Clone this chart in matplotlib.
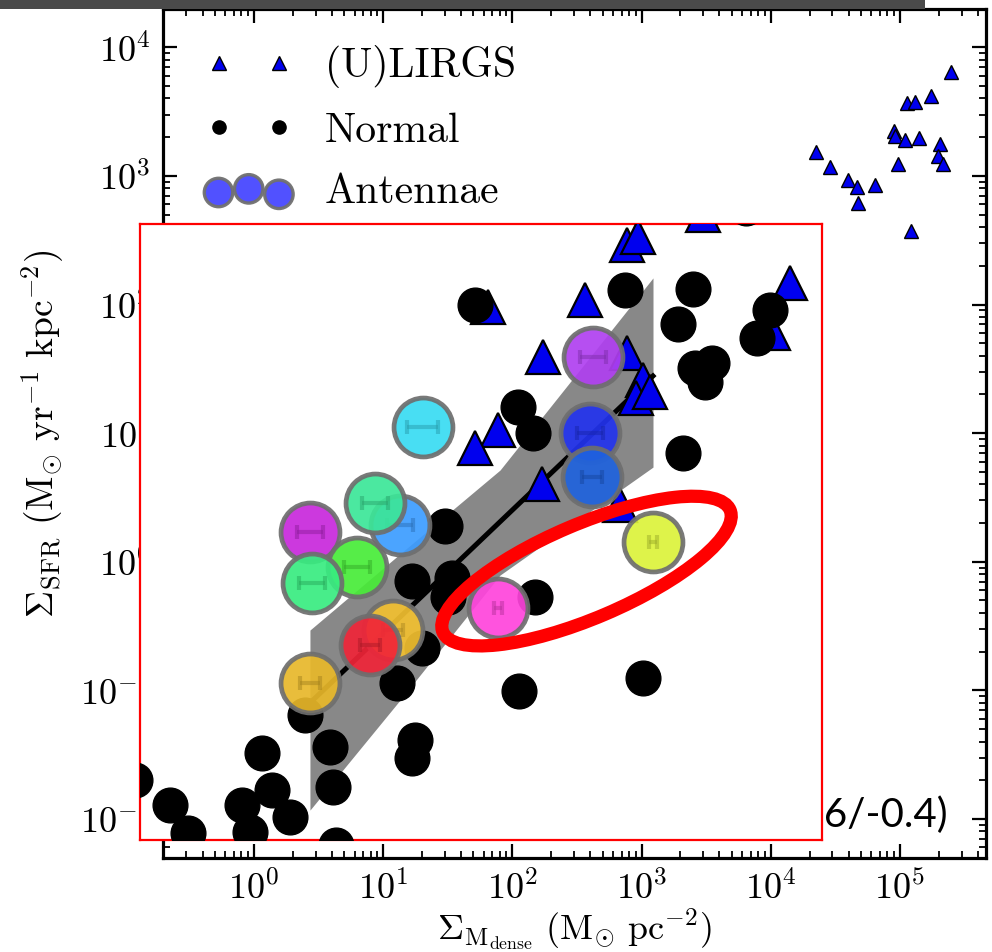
import matplotlib
matplotlib.use("Agg")
import matplotlib.pyplot as plt
import matplotlib.colors as mcolors
import numpy as np
from matplotlib.patches import Ellipse, Rectangle
from matplotlib.transforms import IdentityTransform

plt.rcParams.update({
    "font.family": "serif",
    "font.serif": ["cmr10"],
    "mathtext.fontset": "cm",
    "axes.unicode_minus": False,
    "axes.formatter.use_mathtext": True,
})

# (U)LIRGs visible in the full-range panel
lirg_x = [248000, 113000, 131000, 174000, 90000, 91500, 203000, 109000, 140000,
          197000, 96600, 215000, 22400, 28700, 39600, 46500, 64100, 47300, 122000]
lirg_y = [6430, 3690, 3760, 4180, 2230, 2040, 1770, 1900, 1970,
          1430, 1230, 1230, 1530, 1170, 927, 819, 847, 615, 372]

# zoomed panel: normal galaxies
normal_x = [51.4, 745, 2500, 6430, 9860, 7820, 1910, 2590, 3510, 3100, 110, 144,
            2090, 30.1, 16.7, 34.1, 31.7, 150, 19.9, 12.8, 2.48, 112, 1025, 1.15,
            3.87, 17.6, 16.7, 4.09, 1.38, 0.807, 1.90, 0.224, 0.308, 0.931, 4.31, 0.120]
normal_y = [99.1, 130, 132, 562, 90.6, 54.9, 70.6, 32.1, 35.1, 25.0, 16.0, 10.0,
            7.01, 1.89, 0.707, 0.746, 0.531, 0.531, 0.213, 0.114, 0.0643, 0.0986, 0.124, 0.0325,
            0.0362, 0.0410, 0.0297, 0.0177, 0.0167, 0.0128, 0.0103, 0.0128, 0.00776, 0.00791,
            0.00627, 0.0201]

# zoomed panel: (U)LIRGs
ulirg_x = [64.7, 771, 937, 2990, 365, 14100, 10400, 173, 771, 1025, 905, 1160,
           77.4, 51.4, 169, 681]
ulirg_y = [95.7, 290, 334, 495, 108, 147, 60.0, 39.1, 42.0, 25.9, 18.7, 20.9,
           10.6, 7.66, 4.02, 2.76]

# Antennae regions
ant_x = [20.3, 2.71, 6.27, 2.81, 13.5, 8.64, 11.9, 7.90, 2.71, 421, 399, 413, 77.4, 1225]
ant_y = [11.2, 1.70, 0.910, 0.683, 1.93, 2.86, 0.294, 0.225, 0.114, 39.1, 10.0, 4.56, 0.436, 1.42]
ant_colors = ["#38dcf2", "#c828dc", "#48ec38", "#38ec80", "#3c9cff", "#3ce698", "#f2c030",
              "#f02438", "#e8b82a", "#b040f0", "#2233ee", "#1f62de", "#ff44dc", "#dcf23a"]
ant_xerr_dex = [0.12, 0.1, 0.1, 0.1, 0.1, 0.1, 0.08, 0.08, 0.08, 0.1, 0.1, 0.08, 0.03, 0.03]

# best fit and its uncertainty wedge
fit_x = [2.71, 1225]
fit_y = [0.0797, 27.8]
band_x = [2.71, 13.5, 80.2, 1225]
band_hi = [0.294, 1.15, 5.16, 161]
band_lo = [0.0117, 0.0839, 0.787, 5.44]

fig = plt.figure(figsize=(9.92, 9.52), dpi=100)
W, H = 992.0, 952.0

# main panel
ax = fig.add_axes([163 / W, 1 - 858 / H, 823 / W, 849 / H])
ax.set_xscale("log")
ax.set_yscale("log")
ax.set_xlim(0.1976, 463400)
ax.set_ylim(0.00497, 19860)

ax.plot(lirg_x, lirg_y, ls="none", marker="^", ms=10, mfc="#0000ee", mec="black",
        mew=1.0, label="(U)LIRGS")
ax.plot([], [], ls="none", marker="o", ms=9.5, mfc="black", mec="black", label="Normal")
ax.scatter([], [], s=420, color="#4848ff", edgecolors="#707070", linewidths=2.4,
           alpha=0.95, label="Antennae")

ax.tick_params(which="both", direction="in", top=True, right=True, labelsize=26)
ax.tick_params(which="major", length=10, width=1.6, pad=9)
ax.tick_params(which="minor", length=5, width=1.3)
for sp in ax.spines.values():
    sp.set_linewidth(2.3)

ax.set_xlabel(r"$\Sigma_{\rm M_{dense}}\ ({\rm M_{\odot}\ pc^{-2}})$", fontsize=26, labelpad=0)
ax.set_ylabel(r"$\Sigma_{\rm SFR}\ ({\rm M_{\odot}\ yr^{-1}\ kpc^{-2}})$", fontsize=27, labelpad=10)

ax.legend(loc="upper left", bbox_to_anchor=(0.032, 0.977), borderaxespad=0,
          frameon=False, fontsize=30, numpoints=2, scatterpoints=3,
          scatteryoffsets=[0.375, 0.5, 0.3125], handlelength=2.05,
          handletextpad=0.8, labelspacing=0.58)

ax.text(0.9538, 0.0365, r"slope = 1.1 (+0.6/-0.4)", transform=ax.transAxes,
        ha="right", va="baseline", fontsize=29, family="Lato")

# zoomed panel over the lower-left of the main one
ax_in = fig.add_axes([140 / W, 1 - 840 / H, 682 / W, 616 / H])
ax_in.set_xscale("log")
ax_in.set_yscale("log")
ax_in.set_xlim(0.1311, 24900)
ax_in.set_ylim(0.00685, 422.7)
ax_in.set_xticks([])
ax_in.set_yticks([])
ax_in.minorticks_off()
for sp in ax_in.spines.values():
    sp.set_color("red")
    sp.set_linewidth(1.6)

ax_in.fill_between(band_x, band_lo, band_hi, color="#888888", lw=0, zorder=1)
ax_in.plot(fit_x, fit_y, color="black", lw=3.6, zorder=2)
ax_in.plot(ulirg_x, ulirg_y, ls="none", marker="^", ms=24, mfc="#0000ee", mec="black",
           mew=1.6, zorder=3)
ax_in.plot(normal_x, normal_y, ls="none", marker="o", ms=25, mfc="black", mec="black",
           zorder=4)

for i, (x, y, c, e) in enumerate(zip(ant_x, ant_y, ant_colors, ant_xerr_dex)):
    z = 10 + 2 * i
    ax_in.scatter([x], [y], s=1800, color=c, edgecolors="#6e6e6e", linewidths=3.4,
                  alpha=0.92, zorder=z)
    dark = tuple(0.72 * v for v in mcolors.to_rgb(c))
    ax_in.errorbar([x], [y], xerr=[[x - x / 10 ** e], [x * 10 ** e - x]],
                   fmt="none", ecolor=dark, elinewidth=3, capsize=5, capthick=3,
                   alpha=0.5, zorder=z + 1)

# highlight around the two outlying Antennae regions
fig.canvas.draw()
p1 = ax_in.transData.transform((ant_x[12], ant_y[12]))
p2 = ax_in.transData.transform((ant_x[13], ant_y[13]))
center = (p1 + p2) / 2 + np.array([11, 4])
angle = np.degrees(np.arctan2(p2[1] - p1[1], p2[0] - p1[0]))
fig.add_artist(Ellipse(center, 312, 94, angle=angle, fill=False, ec="#ff0000", lw=9.5,
                       transform=IdentityTransform(), zorder=50))

# dark strip along the top edge
fig.add_artist(Rectangle((0, 1 - 9 / H), 925 / W, 9 / H, transform=fig.transFigure,
                         color="#4a4a4a", lw=0, zorder=60))

fig.savefig("out.png", dpi=100)
